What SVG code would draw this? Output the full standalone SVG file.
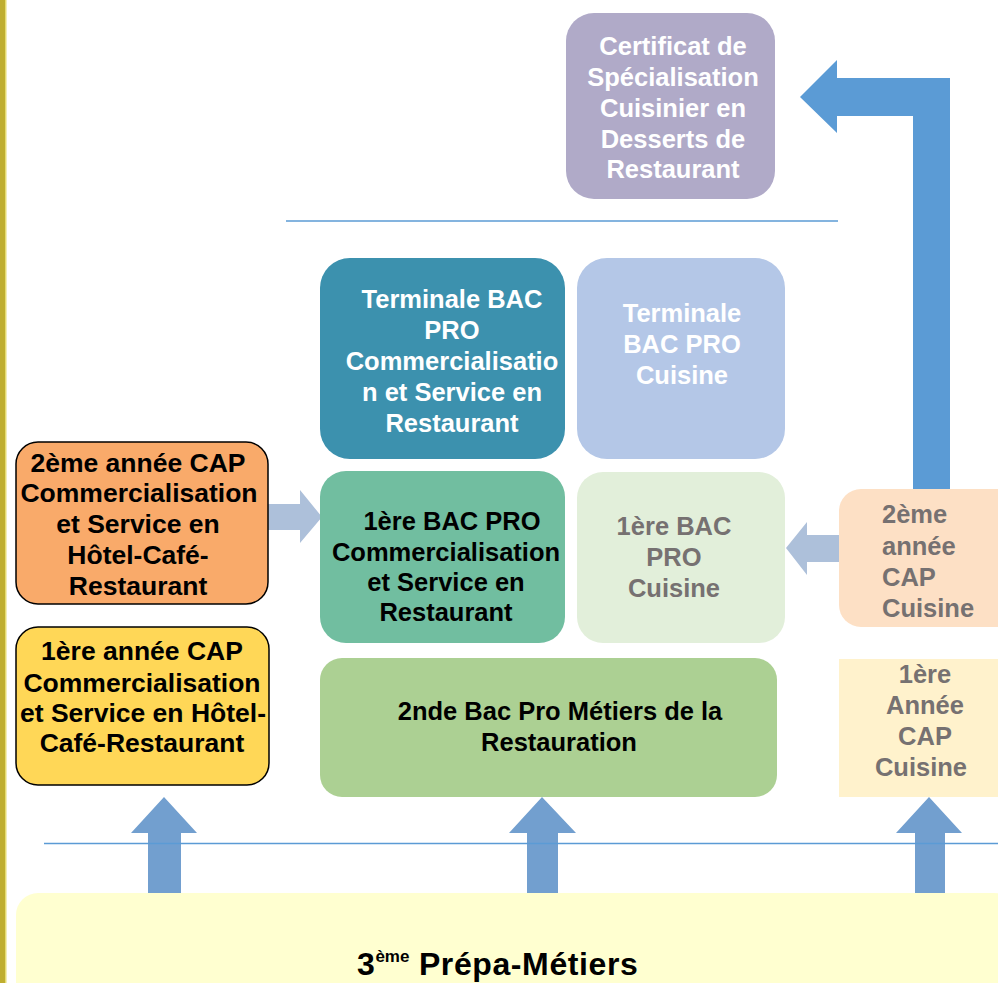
<svg xmlns="http://www.w3.org/2000/svg" width="998" height="983" viewBox="0 0 998 983">
<defs>
<style>
text { font-family: "Liberation Sans", Arial, sans-serif; font-weight: bold; text-anchor: middle; }
.w { fill: #ffffff; font-size: 25.5px; }
.k { fill: #000000; font-size: 25.5px; }
.kl { fill: #000000; font-size: 26.5px; }
.g { fill: #767171; font-size: 25.5px; }
.up { fill: #729fcf; }
.side { fill: #adc0da; }
.big { fill: #5b9bd5; }
.rule { stroke: #5b9bd5; stroke-width: 1.5; fill: none; }
</style>
</defs>
<rect x="0" y="0" width="998" height="983" fill="#ffffff"/>
<rect x="0" y="0" width="6" height="983" fill="#bfae30"/>
<rect x="5" y="0" width="1.5" height="983" fill="#e6dc70"/>

<g id="connectors">
  <path class="big" d="M913,489 L913,116 L837,116 L837,133 L800,97 L837,60 L837,78 L950,78 L950,489 Z"/>
  <path class="side" d="M268,504 L300,504 L300,490 L322,517 L300,543 L300,530 L268,530 Z"/>
  <path class="side" d="M840,535 L807,535 L807,522 L786,548 L807,575 L807,562 L840,562 Z"/>
  <path class="up" d="M148,893 L148,833 L131,833 L164,797 L197,833 L181,833 L181,893 Z"/>
  <path class="up" d="M527,893 L527,833 L509,833 L542,797 L576,833 L558,833 L558,893 Z"/>
  <path class="up" d="M915,893 L915,833 L896,833 L929,797 L962,833 L945,833 L945,893 Z"/>
  <line class="rule" x1="286" y1="221" x2="838" y2="221"/>
  <line class="rule" x1="44" y1="843.5" x2="998" y2="843.5"/>
</g>

<g id="certificat">
  <rect x="566" y="13" width="209" height="186" rx="28" fill="#b0aac8"/>
  <text class="w"><tspan x="673" y="55">Certificat de</tspan><tspan x="673" y="86">Spécialisation</tspan><tspan x="673" y="117">Cuisinier en</tspan><tspan x="673" y="148">Desserts de</tspan><tspan x="673" y="178">Restaurant</tspan></text>
</g>

<g id="terminale-csr">
  <rect x="320" y="258" width="245" height="201" rx="30" fill="#3c91ae"/>
  <text class="w"><tspan x="452" y="308">Terminale BAC</tspan><tspan x="452" y="339">PRO</tspan><tspan x="452" y="370">Commercialisatio</tspan><tspan x="452" y="401">n et Service en</tspan><tspan x="452" y="432">Restaurant</tspan></text>
</g>

<g id="terminale-cuisine">
  <rect x="577" y="258" width="208" height="201" rx="30" fill="#b4c7e7"/>
  <text class="w"><tspan x="682" y="322">Terminale</tspan><tspan x="682" y="353">BAC PRO</tspan><tspan x="682" y="384">Cuisine</tspan></text>
</g>

<g id="premiere-csr">
  <rect x="320" y="471" width="245" height="172" rx="26" fill="#71bea0"/>
  <text class="k"><tspan x="452" y="530">1ère BAC PRO</tspan><tspan x="446" y="561">Commercialisation</tspan><tspan x="446" y="591">et Service en</tspan><tspan x="446" y="621">Restaurant</tspan></text>
</g>

<g id="premiere-cuisine">
  <rect x="577" y="472" width="208" height="171" rx="26" fill="#e2efda"/>
  <text class="g"><tspan x="674" y="535">1ère BAC</tspan><tspan x="674" y="566">PRO</tspan><tspan x="674" y="597">Cuisine</tspan></text>
</g>

<g id="cap2-csr">
  <rect x="16" y="442" width="252" height="162" rx="22" fill="#f9aa6a" stroke="#000000" stroke-width="1.5"/>
  <text class="kl"><tspan x="138" y="472">2ème année CAP</tspan><tspan x="139" y="502">Commercialisation</tspan><tspan x="138" y="533">et Service en</tspan><tspan x="138" y="564">Hôtel-Café-</tspan><tspan x="138" y="595">Restaurant</tspan></text>
</g>

<g id="cap1-csr">
  <rect x="16" y="627" width="253" height="158" rx="22" fill="#ffd757" stroke="#000000" stroke-width="1.5"/>
  <text class="kl"><tspan x="142" y="660">1ère année CAP</tspan><tspan x="142" y="692">Commercialisation</tspan><tspan x="143" y="722">et Service en Hôtel-</tspan><tspan x="142" y="752">Café-Restaurant</tspan></text>
</g>

<g id="seconde">
  <rect x="320" y="658" width="457" height="139" rx="22" fill="#acd093"/>
  <text class="k"><tspan x="560" y="720">2nde Bac Pro Métiers de la</tspan><tspan x="559" y="751">Restauration</tspan></text>
</g>

<g id="cap2-cuisine">
  <rect x="839" y="489" width="180" height="138" rx="22" fill="#fde0c5"/>
  <text class="g" style="text-anchor:start"><tspan x="882" y="523">2ème</tspan><tspan x="882" y="555">année</tspan><tspan x="882" y="586">CAP</tspan><tspan x="882" y="617">Cuisine</tspan></text>
</g>

<g id="cap1-cuisine">
  <rect x="839" y="659" width="159" height="138" fill="#fff2cc"/>
  <text class="g"><tspan x="925" y="683">1ère</tspan><tspan x="925" y="714">Année</tspan><tspan x="925" y="745">CAP</tspan><tspan x="921" y="776">Cuisine</tspan></text>
</g>

<g id="prepa">
  <rect x="16" y="893" width="1000" height="120" rx="22" fill="#ffffd0"/>
  <text style="font-size:32px;fill:#000000;text-anchor:start;letter-spacing:0.6px" x="357" y="975">3<tspan style="font-size:17px;letter-spacing:0" dy="-13">ème</tspan><tspan dy="13"> Prépa-Métiers</tspan></text>
</g>
</svg>
